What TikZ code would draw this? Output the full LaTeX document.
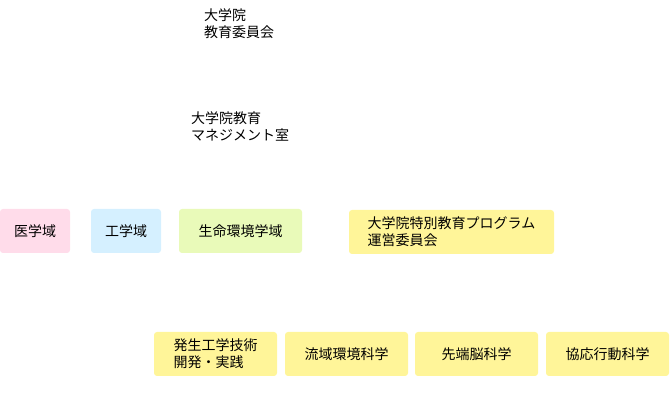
\documentclass[tikz,border=0pt]{standalone}
\usepackage{fontspec}
\setmainfont{Noto Sans CJK JP}

\definecolor{igakuPink}{HTML}{FFDCEA}
\definecolor{kogakuBlue}{HTML}{D5F0FF}
\definecolor{seimeiGreen}{HTML}{E9FAB9}
\definecolor{progYellow}{HTML}{FFF599}

\begin{document}
\begin{tikzpicture}[x = 1pt, y = -1pt,
	unitbox/.style = {rounded corners = 3pt, inner sep = 0pt, align = left, minimum height = 44pt, font = \fontsize{14}{17}\selectfont},
	plaintext/.style = {inner sep = 0pt, align = left, anchor = west, font = \fontsize{14}{17}\selectfont}]

	% Definition

	\def\W{123};

	\useasboundingbox (0, 0) rectangle (670, 411);

	% Committee and office

	\node [plaintext] (iinkai) at (204, 23.5) {大学院\\教育委員会};
	\node [plaintext] (mgmt) at (191, 126.5) {大学院教育\\マネジメント室};

	% Faculties

	\node [unitbox, fill = igakuPink, minimum width = 70pt] (igaku) at (35, 231) {医学域};
	\node [unitbox, fill = kogakuBlue, minimum width = 70pt] (kogaku) at (126, 231) {工学域};
	\node [unitbox, fill = seimeiGreen, minimum width = \W pt] (seimei) at (240.5, 231) {生命環境学域};
	\node [unitbox, fill = progYellow, minimum width = 205pt] (unei) at (451.5, 232) {大学院特別教育プログラム\\運営委員会};

	% Programs

	\foreach \x/\name/\txt in {154/hassei/{発生工学技術\\開発・実践}, 285/ryuiki/{流域環境科学}, 415/sentan/{先端脳科学}, 546/kyoo/{協応行動科学}}
	{
		\node [unitbox, fill = progYellow, minimum width = \W pt] (\name) at ({\x + \W / 2}, 354) {\txt};
	}

\end{tikzpicture}
\end{document}
